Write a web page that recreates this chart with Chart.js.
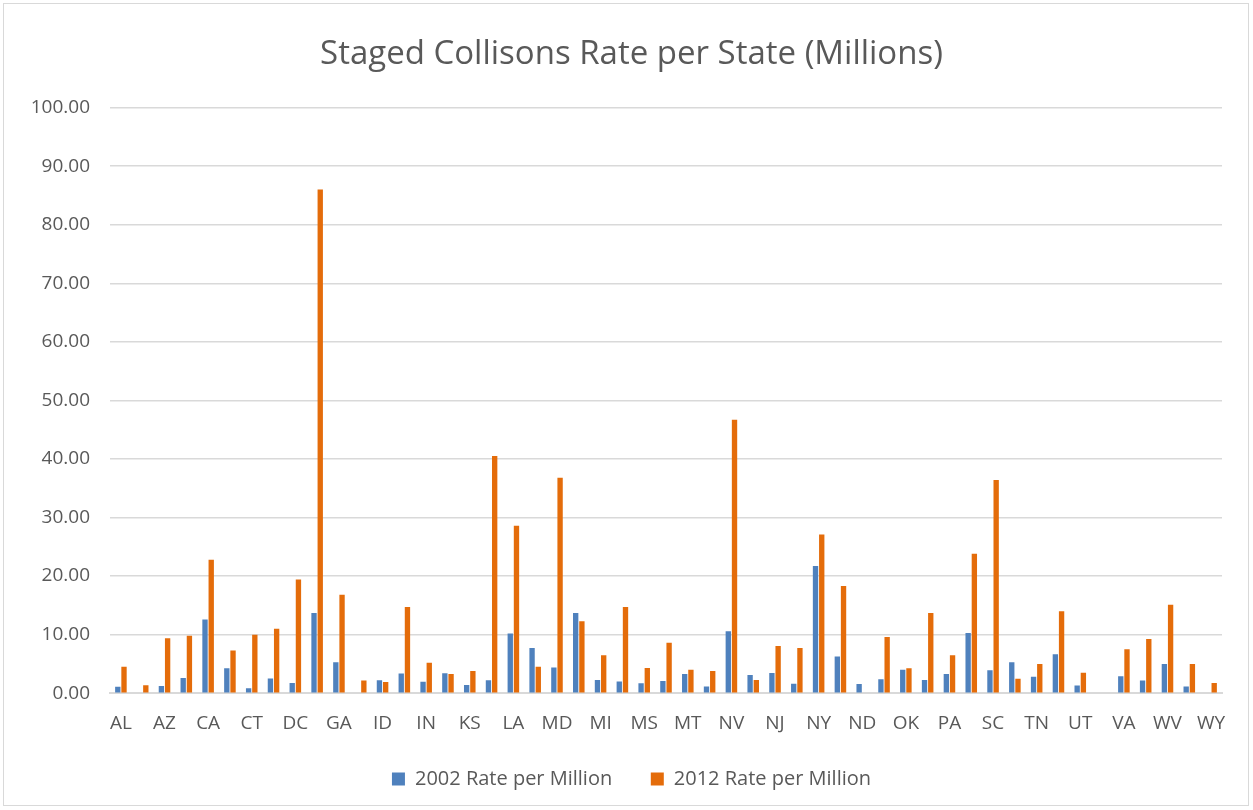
<!DOCTYPE html>
<html>
<head>
<meta charset="utf-8">
<script src="https://cdn.jsdelivr.net/npm/chart.js@4/dist/chart.umd.min.js"></script>
<style>
  html, body { margin: 0; padding: 0; background: #fff; }
  #wrap { position: absolute; left: 0; top: 0; width: 1253px; height: 810px; }
  #frame { position: absolute; left: 3px; top: 3px; width: 1246px; height: 803px; border: 1px solid #d9d9d9; box-sizing: border-box; pointer-events: none; }
</style>
</head>
<body>
<div id="wrap">
  <canvas id="stateChart" width="1253" height="810"></canvas>
  <div id="frame"></div>
</div>
<script>
// states (alphabetical, DC included)
const states = ["AL", "AK", "AZ", "AR", "CA", "CO", "CT", "DE", "DC", "FL", "GA", "HI", "ID", "IL", "IN", "IA", "KS", "KY", "LA", "ME", "MD", "MA", "MI", "MN", "MS", "MO", "MT", "NE", "NV", "NH", "NJ", "NM", "NY", "NC", "ND", "OH", "OK", "OR", "PA", "RI", "SC", "SD", "TN", "TX", "UT", "VT", "VA", "WA", "WV", "WI", "WY"]

const rate2002 = [1.1, null, 1.25, 2.6, 12.6, 4.25, 0.85, 2.5, 1.75, 13.7, 5.3, null, 2.2, 3.35, 1.95, 3.4, 1.4, 2.2, 10.2, 7.7, 4.4, 13.7, 2.25, 2.0, 1.7, 2.1, 3.3, 1.15, 10.6, 3.1, 3.45, 1.6, 21.7, 6.25, 1.55, 2.4, 4.0, 2.25, 3.3, 10.3, 3.9, 5.3, 2.8, 6.65, 1.3, null, 2.9, 2.15, 5.0, 1.15, null]

const rate2012 = [4.5, 1.35, 9.4, 9.8, 22.8, 7.3, 10.0, 11.0, 19.4, 86.0, 16.8, 2.15, 1.9, 14.7, 5.2, 3.3, 3.8, 40.5, 28.6, 4.5, 36.8, 12.3, 6.5, 14.7, 4.3, 8.6, 4.0, 3.8, 46.7, 2.25, 8.05, 7.7, 27.1, 18.3, null, 9.6, 4.25, 13.7, 6.5, 23.8, 36.4, 2.45, 5.0, 14.0, 3.5, null, 7.5, 9.25, 15.1, 5.0, 1.75]

const yTicks = [0, 10, 20, 30, 40, 50, 60, 70, 80, 90, 100]

const textColor = "#595959"
const fontFamily = "'Open Sans', 'Noto Sans', sans-serif"

const ctx = document.getElementById("stateChart")
new Chart(ctx, {
  type: "bar",
  data: {
    labels: states,
    datasets: [
      {
        label: "2002 Rate per Million",
        data: rate2002,
        backgroundColor: "#4f81bd",
        borderWidth: 0,
        yAxisID: "y",
      },
      {
        label: "2012 Rate per Million",
        data: rate2012,
        backgroundColor: "#e46c0a",
        borderWidth: 0,
        yAxisID: "y",
      },
    ],
  },
  options: {
    responsive: false,
    animation: false,
    devicePixelRatio: 1,
    categoryPercentage: 0.57,
    barPercentage: 0.86,
    layout: {
      padding: { left: 12, right: 2, top: 0, bottom: 11 },
    },
    plugins: {
      title: {
        display: true,
        text: "Staged Collisons Rate per State (Millions)",
        color: textColor,
        font: { family: fontFamily, size: 33, weight: "normal" },
        padding: { top: 35, bottom: 33 },
      },
      legend: {
        position: "bottom",
        labels: {
          color: textColor,
          font: { family: fontFamily, size: 20 },
          boxWidth: 13,
          boxHeight: 13,
          padding: 23,
          // wider gap between the two entries, like Excel
          generateLabels: (chart) => {
            const items = Chart.defaults.plugins.legend.labels.generateLabels(chart)
            items.forEach((item, i) => {
              if (i < items.length - 1) item.text = item.text + "   "
            })
            return items
          },
        },
      },
      tooltip: { enabled: false },
    },
    scales: {
      y: {
        min: 0,
        max: 100,
        afterBuildTicks: (scale) => {
          scale.ticks = yTicks.map((v) => ({ value: v }))
        },
        afterFit: (scale) => {
          scale.width = 98
        },
        ticks: {
          color: textColor,
          font: { family: fontFamily, size: 19 },
          padding: 20,
          callback: (value) => Number(value).toFixed(2),
        },
        grid: {
          color: "#d9d9d9",
          lineWidth: 1.5,
          drawTicks: false,
        },
        border: { display: false },
      },
      // empty right-hand spacer so the title and legend centre on the whole frame
      spacer: {
        type: "linear",
        position: "right",
        display: true,
        afterFit: (scale) => {
          scale.width = 29
        },
        ticks: { display: false },
        grid: { display: false, drawTicks: false },
        border: { display: false },
      },
      x: {
        ticks: {
          color: textColor,
          font: { family: fontFamily, size: 19 },
          autoSkip: false,
          maxRotation: 0,
          padding: 11,
          callback: function (value, index) {
            return index % 2 === 0 ? this.getLabelForValue(value) : ""
          },
        },
        grid: { display: false },
        border: { color: "#d9d9d9", width: 2 },
      },
    },
  },
})
</script>
</body>
</html>
